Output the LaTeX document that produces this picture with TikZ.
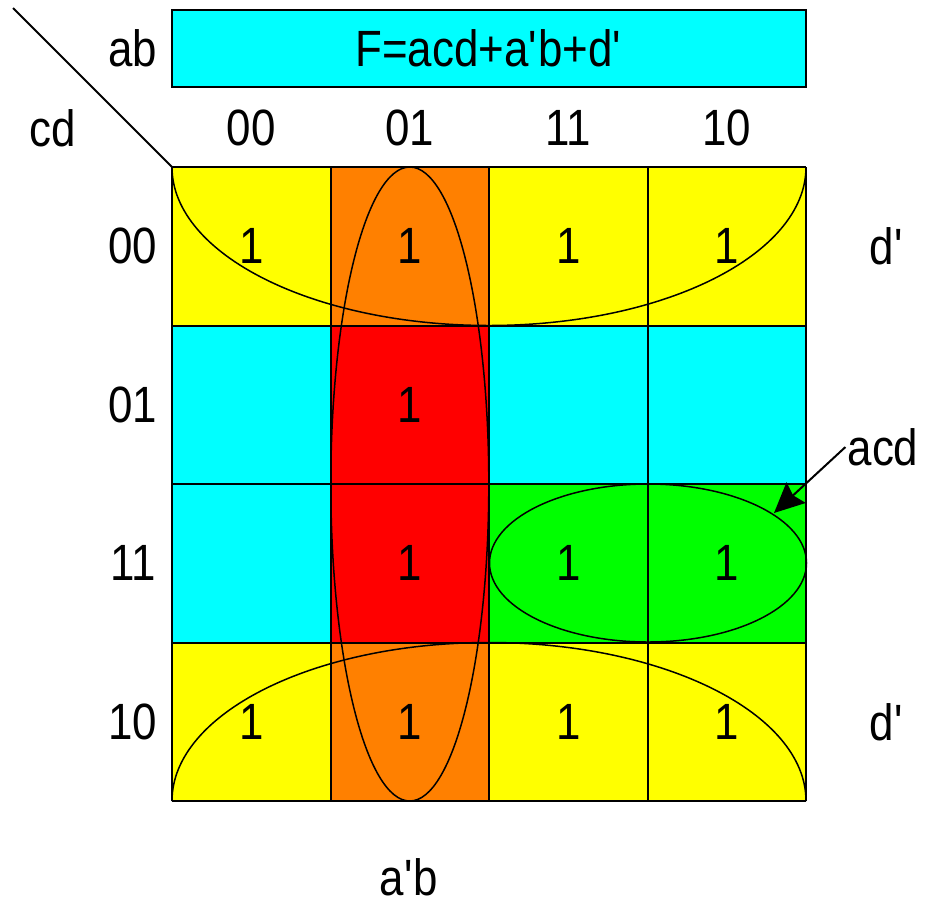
\documentclass[tikz,border=0pt]{standalone}
\usepackage{fontspec}
\setmainfont{Liberation Sans}[FakeStretch=0.86]
\usetikzlibrary{arrows.meta}
\definecolor{kcyan}{RGB}{0,255,255}
\definecolor{kyellow}{RGB}{255,255,0}
\definecolor{korange}{RGB}{255,128,0}
\definecolor{kred}{RGB}{255,0,0}
\definecolor{kgreen}{RGB}{0,255,0}
\newcommand\qt{\textquotesingle}
\tikzset{
  kcell/.style={minimum size=158.5pt, inner sep=0pt, outer sep=0pt},
  loop/.style={draw, line width=1.5pt},
}
\begin{document}
\begin{tikzpicture}[x=1pt,y=-1pt,font=\fontsize{51}{60}\selectfont]
\useasboundingbox (0,0) rectangle (925,903);
% Karnaugh map cells: column/row/colour/entry
\foreach \c/\r/\col/\v in {0/0/kyellow/1, 1/0/korange/1, 2/0/kyellow/1, 3/0/kyellow/1,
                            0/1/kcyan/, 1/1/kred/1, 2/1/kcyan/, 3/1/kcyan/,
                            0/2/kcyan/, 1/2/kred/1, 2/2/kgreen/1, 3/2/kgreen/1,
                            0/3/kyellow/1, 1/3/korange/1, 2/3/kyellow/1, 3/3/kyellow/1}
  \node[kcell, fill=\col] (c\c\r) at ({172+158.5*(\c+0.5)},{167+158.5*(\r+0.5)}) {\v};
% Grid lines
\foreach \i in {0,...,4} {
  \draw[line width=2pt] ({172+158.5*\i},167) -- ({172+158.5*\i},801);
  \draw[line width=2pt] (172,{167+158.5*\i}) -- (806,{167+158.5*\i});
}
% Green loop acd
\draw[loop] (648,563) ellipse[x radius=158.5, y radius=79];
% Vertical loop a'b
\draw[loop] (409.8,484) ellipse[x radius=79, y radius=317];
% Loops d' wrapping top and bottom rows
\draw[loop] (c00.north west) arc[start angle=180, end angle=0, x radius=317, y radius=158.5];
\draw[loop] (c03.south west) arc[start angle=180, end angle=360, x radius=317, y radius=158.5];
% Function banner
\node[draw, fill=kcyan, line width=2pt, minimum width=634pt, minimum height=77pt] (func) at (489,48.5) {F=acd+a\qt b+d\qt};
% Diagonal corner line and axis names
\coordinate (corner) at (13,8);
\draw[line width=1.8pt] (corner) -- (c00.north west);
\node (ab) at (133,48) {ab};
\node (cd) at (53,128) {cd};
% Column and row labels
\foreach \c/\t in {0/00, 1/01, 2/11, 3/10} {
  \node (col\c) at ({172+158.5*(\c+0.5)},128) {\t};
  \node (row\c) at (133,{167+158.5*(\c+0.5)}) {\t};
}
% Loop names
\node (d1) at (887,246) {d\qt};
\node (d2) at (887,722) {d\qt};
\node (abar) at (409,877) {a\qt b};
\node[inner sep=2pt] (acd) at (883,447) {acd};
\coordinate (acdtip) at (774,513);
\draw[line width=2pt, -{Stealth[length=30pt,width=28pt,inset=4pt]}] (acd.west) -- (acdtip);
\end{tikzpicture}
\end{document}
